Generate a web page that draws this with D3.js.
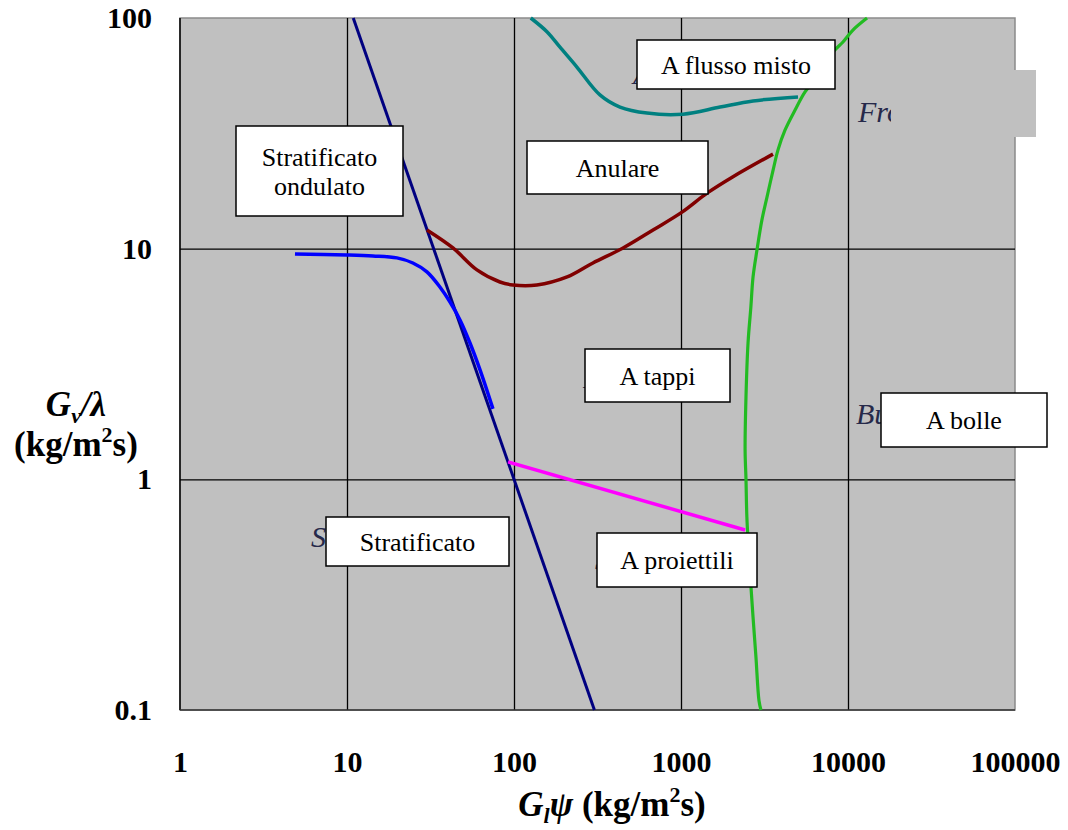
<!DOCTYPE html>
<html lang="it">
<head>
<meta charset="UTF-8">
<title>Mappa dei regimi di flusso</title>
<style>
  body { margin: 0; background: #fff; }
  svg text { font-family: 'Liberation Serif', 'Times New Roman', Times, 'DejaVu Serif', serif; }
  .tick text { font-weight: bold; }
</style>
</head>
<body>
<script src="https://d3js.org/d3.v7.min.js"></script>
<script>
// dimensioni
let width = 1068;
let height = 830;
let plot = { left: 180, right: 1015, top: 18, bottom: 710 };

// tick
let xTicks = [1, 10, 100, 1000, 10000, 100000];
let yTicks = [0.1, 1, 10, 100];

// curve di confine (Glψ, Gv/λ)
let stratLine = [[10.9, 100], [303, 0.1]];
let wavyLine = [[4.88, 9.48], [10, 9.39], [14.3, 9.3], [19.9, 9.12], [24.8, 8.67], [30.1, 7.93], [36, 6.82], [41.4, 5.87], [47.5, 4.91], [54.5, 3.9], [62.6, 2.98], [74.8, 2.02]];
let annularLine = [[30.1, 12.05], [43.1, 10.07], [60, 8.09], [82.4, 7.17], [98.6, 6.96], [137, 6.96], [208, 7.54], [297, 8.67], [450, 10.07], [680, 12.05], [1014, 14.4], [1432, 17.4], [2049, 20.5], [3556, 25.7]];
let mistoLine = [[126, 100], [158, 87], [188, 74.9], [238, 61.3], [327, 46.4], [431, 41.1], [626, 38.7], [1028, 38.3], [1714, 41.1], [2700, 43.7], [5020, 45.5]];
let bolleLine = [[13000, 100], [10700, 88.7], [9330, 78.7], [8130, 71.2], [6520, 55.5], [5530, 47.8], [4820, 39.9], [4200, 32.7], [3810, 26.8], [3560, 21.9], [3270, 16.7], [3050, 13.3], [2850, 9.86], [2700, 7.54], [2620, 5.58], [2520, 3.9], [2450, 2.28], [2420, 1.34], [2450, 1.0], [2480, 0.687], [2590, 0.393], [2700, 0.253], [2810, 0.17], [2930, 0.11], [3010, 0.1]];
let tappiLine = [[92.1, 1.19], [2420, 0.603]];

let curves = [
  { data: stratLine, color: '#000080', w: 3 },
  { data: wavyLine, color: '#0000ff', w: 3.5 },
  { data: annularLine, color: '#800000', w: 3.5 },
  { data: mistoLine, color: '#008080', w: 3.5 },
  { data: bolleLine, color: '#22bb22', w: 3.2 },
  { data: tappiLine, color: '#ff00ff', w: 3.5 }
];

// etichette originali (in parte coperte)
let oldLabels = [
  { text: 'Annular', x: 633, y: 84 },
  { text: 'Froth', x: 858, y: 122 },
  { text: 'Plug', x: 583, y: 388 },
  { text: 'Bubble', x: 856, y: 424 },
  { text: 'Stratified', x: 311, y: 547 },
  { text: 'Slug', x: 595, y: 570 }
];

// riquadri delle regioni
let boxes = [
  { lines: ['Stratificato', 'ondulato'], x0: 236, x1: 403, y0: 126, y1: 216 },
  { lines: ['A flusso misto'], x0: 637, x1: 835, y0: 40, y1: 89 },
  { lines: ['Anulare'], x0: 527, x1: 708, y0: 141, y1: 194 },
  { lines: ['A tappi'], x0: 585, x1: 730, y0: 349, y1: 402 },
  { lines: ['A bolle'], x0: 881, x1: 1047, y0: 393, y1: 447 },
  { lines: ['A proiettili'], x0: 597, x1: 757, y0: 533, y1: 587 },
  { lines: ['Stratificato'], x0: 326, x1: 509, y0: 517, y1: 566 }
];

let xScale = d3.scaleLog().domain([1, 100000]).range([plot.left, plot.right]);
let yScale = d3.scaleLog().domain([0.1, 100]).range([plot.bottom, plot.top]);

let svg = d3.select('body')
  .append('svg')
  .attr('width', width)
  .attr('height', height);

// sfondo
svg.append('rect')
  .attr('x', plot.left)
  .attr('y', plot.top)
  .attr('width', plot.right - plot.left)
  .attr('height', plot.bottom - plot.top)
  .attr('fill', '#c0c0c0')
  .attr('stroke', '#8a8a8a')
  .attr('stroke-width', 1.5);

// griglia
svg.append('g')
  .attr('transform', 'translate(0,' + plot.bottom + ')')
  .call(d3.axisBottom(xScale).tickValues(xTicks.slice(1, -1)).tickSize(-(plot.bottom - plot.top)).tickFormat(''))
  .call(g => g.select('.domain').remove())
  .call(g => g.selectAll('line').attr('stroke', '#000').attr('stroke-width', 1.3));

svg.append('g')
  .attr('transform', 'translate(' + plot.left + ',0)')
  .call(d3.axisLeft(yScale).tickValues(yTicks.slice(1, -1)).tickSize(-(plot.right - plot.left)).tickFormat(''))
  .call(g => g.select('.domain').remove())
  .call(g => g.selectAll('line').attr('stroke', '#000').attr('stroke-width', 1.3));

svg.append('line')
  .attr('x1', plot.left).attr('x2', plot.left)
  .attr('y1', plot.top).attr('y2', plot.bottom)
  .attr('stroke', '#000').attr('stroke-width', 1.5);
svg.append('line')
  .attr('x1', plot.left).attr('x2', plot.right)
  .attr('y1', plot.bottom).attr('y2', plot.bottom)
  .attr('stroke', '#333').attr('stroke-width', 1.5);

// etichette degli assi
svg.append('g')
  .attr('transform', 'translate(0,' + plot.bottom + ')')
  .call(d3.axisBottom(xScale).tickValues(xTicks).tickSize(0).tickPadding(41).tickFormat(d3.format('d')))
  .call(g => g.select('.domain').remove())
  .call(g => g.selectAll('text').attr('font-size', 30).attr('fill', '#000'));

svg.append('g')
  .attr('transform', 'translate(' + (plot.left - 28) + ',0)')
  .call(d3.axisLeft(yScale).tickValues(yTicks).tickSize(0).tickPadding(0).tickFormat(d => d < 1 ? '0.1' : d3.format('d')(d)))
  .call(g => g.select('.domain').remove())
  .call(g => g.selectAll('text').attr('font-size', 30).attr('fill', '#000'));

// etichette originali
svg.append('g')
  .selectAll('text')
  .data(oldLabels)
  .enter()
  .append('text')
  .attr('x', d => d.x)
  .attr('y', d => d.y)
  .attr('font-style', 'italic')
  .attr('font-size', 30)
  .attr('fill', '#26294a')
  .text(d => d.text);

// rettangolo grigio che copre "Froth"
svg.append('rect')
  .attr('x', 891).attr('y', 70)
  .attr('width', 145).attr('height', 67)
  .attr('fill', '#c0c0c0');

// curve
let line = d3.line()
  .x(d => xScale(d[0]))
  .y(d => yScale(d[1]))
  .curve(d3.curveCatmullRom);

svg.append('g')
  .selectAll('path')
  .data(curves)
  .enter()
  .append('path')
  .attr('d', d => line(d.data))
  .attr('fill', 'none')
  .attr('stroke', d => d.color)
  .attr('stroke-width', d => d.w)
  .attr('stroke-linejoin', 'round');

// riquadri
let box = svg.append('g')
  .selectAll('g')
  .data(boxes)
  .enter()
  .append('g');

box.append('rect')
  .attr('x', d => d.x0)
  .attr('y', d => d.y0)
  .attr('width', d => d.x1 - d.x0)
  .attr('height', d => d.y1 - d.y0)
  .attr('fill', '#fff')
  .attr('stroke', '#000')
  .attr('stroke-width', 1.5);

box.each(function(d) {
  let g = d3.select(this);
  let n = d.lines.length;
  let cy = (d.y0 + d.y1) / 2;
  d.lines.forEach((t, i) => {
    g.append('text')
      .attr('x', (d.x0 + d.x1) / 2)
      .attr('y', cy + (i - (n - 1) / 2) * 29)
      .attr('dy', '0.35em')
      .attr('text-anchor', 'middle')
      .attr('font-size', 26)
      .attr('fill', '#000')
      .text(t);
  });
});

// titoli degli assi
let yTitle = svg.append('text')
  .attr('x', 76)
  .attr('y', 416)
  .attr('text-anchor', 'middle')
  .attr('font-weight', 'bold')
  .attr('font-size', 35);
yTitle.append('tspan').attr('font-style', 'italic').text('G');
yTitle.append('tspan').attr('font-style', 'italic').attr('font-size', 22).attr('dy', 7).text('v');
yTitle.append('tspan').attr('font-style', 'italic').attr('dy', -7).text('/λ');

let yUnit = svg.append('text')
  .attr('x', 76)
  .attr('y', 456)
  .attr('text-anchor', 'middle')
  .attr('font-weight', 'bold')
  .attr('font-size', 35);
yUnit.append('tspan').text('(kg/m');
yUnit.append('tspan').attr('font-size', 22).attr('dy', -14).text('2');
yUnit.append('tspan').attr('dy', 14).text('s)');

let xTitle = svg.append('text')
  .attr('x', 612)
  .attr('y', 816)
  .attr('text-anchor', 'middle')
  .attr('font-weight', 'bold')
  .attr('font-size', 35);
xTitle.append('tspan').attr('font-style', 'italic').text('G');
xTitle.append('tspan').attr('font-style', 'italic').attr('font-size', 22).attr('dy', 7).text('l');
xTitle.append('tspan').attr('font-style', 'italic').attr('dy', -7).text('ψ');
xTitle.append('tspan').text(' (kg/m');
xTitle.append('tspan').attr('font-size', 22).attr('dy', -14).text('2');
xTitle.append('tspan').attr('dy', 14).text('s)');
</script>
</body>
</html>
